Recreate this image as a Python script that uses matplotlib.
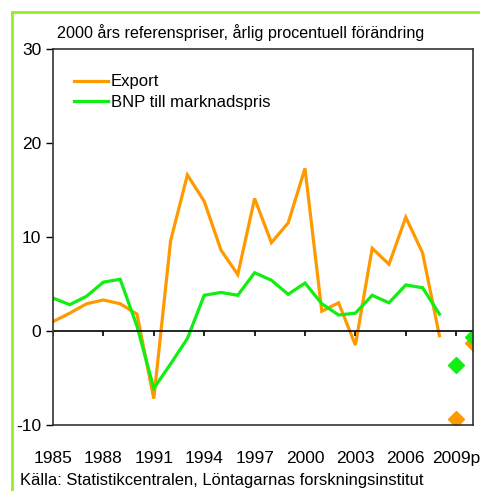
import matplotlib
matplotlib.use("Agg")
import matplotlib.pyplot as plt
from matplotlib.lines import Line2D

# ----- DATA -----
years = list(range(1985, 2009))
export = [1.0, 1.9, 2.9, 3.3, 2.9, 1.8, -7.2, 9.6, 16.6, 13.8, 8.6, 6.0,
          14.1, 9.4, 11.5, 17.3, 2.1, 3.0, -1.5, 8.8, 7.1, 12.1, 8.3, -0.5]
bnp = [3.5, 2.8, 3.7, 5.2, 5.5, 0.5, -6.1, -3.5, -0.8, 3.8, 4.1, 3.8,
       6.2, 5.4, 3.9, 5.1, 2.9, 1.7, 1.9, 3.8, 3.0, 4.9, 4.6, 1.8]
forecast_years = [2009, 2010]
export_fc = [-9.4, -1.3]
bnp_fc = [-3.6, -0.6]
xticks = [1985, 1988, 1991, 1994, 1997, 2000, 2003, 2006, 2009]
xticklabels = ["1985", "1988", "1991", "1994", "1997", "2000", "2003", "2006", "2009p"]
yticks = [-10, 0, 10, 20, 30]
title = "2000 års referenspriser, årlig procentuell förändring"
source = "Källa: Statistikcentralen, Löntagarnas forskningsinstitut"
# ----------------

FONT = ["Liberation Sans Narrow", "Liberation Sans", "DejaVu Sans"]
plt.rcParams["font.family"] = FONT
plt.rcParams["axes.unicode_minus"] = False
ORANGE = "#ff9900"
GREEN = "#11ee11"

fig = plt.figure(figsize=(4.8, 4.91), dpi=100)
ax = fig.add_axes([53 / 480, 1 - 425 / 491, 420 / 480, 376 / 491])

ax.plot(years, export, color=ORANGE, lw=2.3, label="Export", solid_joinstyle="miter")
ax.plot(years, bnp, color=GREEN, lw=2.3, label="BNP till marknadspris", solid_joinstyle="miter")
ax.plot(forecast_years, export_fc, ls="none", marker="D", ms=8, color=ORANGE, mec=ORANGE)
ax.plot(forecast_years, bnp_fc, ls="none", marker="D", ms=8, color=GREEN, mec=GREEN)

ax.set_xlim(1985, 2010)
ax.set_ylim(-10, 30)
ax.axhline(0, color="black", lw=1.2)
ax.vlines(xticks, -0.55, 0, color="black", lw=1.2)

ax.set_xticks(xticks)
ax.set_xticklabels(xticklabels)
ax.set_yticks(yticks)
ax.tick_params(axis="x", length=0, pad=19, labelsize=12.5)
ax.tick_params(axis="y", length=5, width=1, direction="out", labelsize=12.5)
for s in ax.spines.values():
    s.set_color("#333333")
    s.set_linewidth(1.2)

ax.legend(loc="upper left", frameon=False, fontsize=12, handlelength=2.0,
          handletextpad=0.2, labelspacing=0.35, borderaxespad=0,
          bbox_to_anchor=(0.035, 0.95))

fig.text(57 / 480, 1 - 33 / 491, title, fontsize=11.6, va="center", ha="left")
fig.text(20 / 480, 1 - 481 / 491, source, fontsize=11.9, va="center", ha="left")

# yellow-green frame round the figure
frame_col = "#99ee22"
x0, y0 = 11.5 / 480, 1 - 11.5 / 491
fig.add_artist(Line2D([x0, x0], [0, y0], color=frame_col, lw=2, transform=fig.transFigure))
fig.add_artist(Line2D([x0, 1], [y0, y0], color=frame_col, lw=2, transform=fig.transFigure))

fig.savefig("out.png", dpi=100)
